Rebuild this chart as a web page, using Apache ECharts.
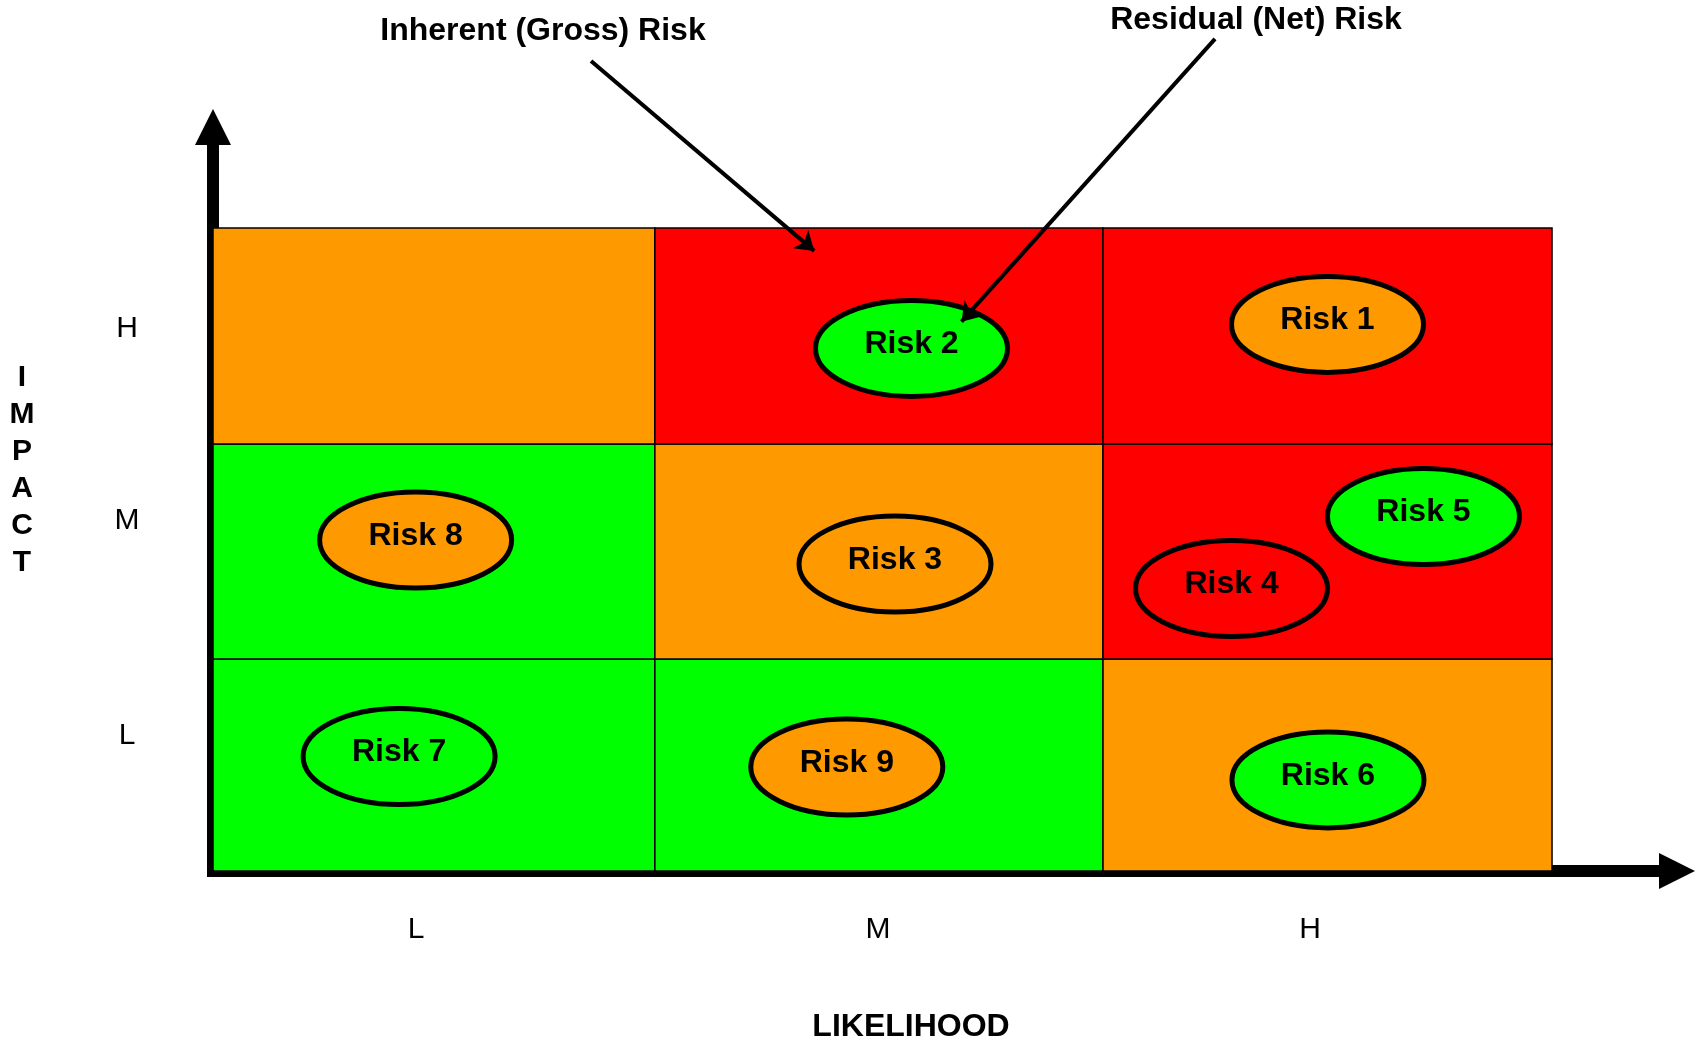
<!DOCTYPE html>
<html>
<head>
<meta charset="utf-8">
<script src="https://cdn.jsdelivr.net/npm/echarts@6/dist/echarts.min.js"></script>
<style>
html,body{margin:0;padding:0;background:#fff;}
#chart{width:1698px;height:1042px;}
</style>
</head>
<body>
<div id="chart"></div>
<script>
// ---- data ----
const xTickLabels = ['L', 'M', 'H'];          // likelihood
const yTickLabels = ['L', 'M', 'H'];          // impact
const xTickAt = [0.455, 1.490, 2.458];
const yTickAt = [0.630, 1.633, 2.529];

// band edges of the L / M / H bands as drawn
const likelihoodEdges = [0, 0.990, 1.994, 3];
const impactEdges     = [0, 0.989, 1.992, 3];

// cell ratings by impact row (L, M, H) and likelihood column (L, M, H)
const cellRatingRowL = ['Low', 'Low', 'Medium'];
const cellRatingRowM = ['Low', 'Medium', 'High'];
const cellRatingRowH = ['Medium', 'High', 'High'];

const riskNames      = ['Risk 1', 'Risk 2', 'Risk 3', 'Risk 4', 'Risk 5', 'Risk 6', 'Risk 7', 'Risk 8', 'Risk 9'];
const riskLikelihood = [2.497, 1.565, 1.528, 2.282, 2.712, 2.498, 0.417, 0.454, 1.420];
const riskImpact     = [2.550, 2.438, 1.432, 1.318, 1.654, 0.425, 0.534, 1.544, 0.485];
const riskRating     = ['Medium', 'Low', 'Medium', 'High', 'Low', 'Low', 'Low', 'Medium', 'Medium'];

const annotationNames = ['Inherent (Gross) Risk', 'Residual (Net) Risk'];
const annotationFrom  = [[0.847, 3.779], [2.245, 3.882]];
const annotationTo    = [[1.347, 2.893], [1.677, 2.563]];

// ---- styles ----
const ratingColor = { Low: '#00FF00', Medium: '#FF9900', High: '#FF0000' };
const FONT = '"Liberation Sans", Arial, Helvetica, sans-serif';

const cellRows = [cellRatingRowL, cellRatingRowM, cellRatingRowH];
const cellData = [];
cellRows.forEach((row, r) => row.forEach((rating, c) =>
  cellData.push([likelihoodEdges[c], impactEdges[r], likelihoodEdges[c + 1], impactEdges[r + 1], rating])));

const riskData = riskNames.map((n, i) => [riskLikelihood[i], riskImpact[i], riskRating[i], n]);

const chart = echarts.init(document.getElementById('chart'));

function nearestIndex(arr, v) {
  let best = 0;
  arr.forEach((a, i) => { if (Math.abs(a - v) < Math.abs(arr[best] - v)) best = i; });
  return best;
}

const axisLineStyle = {
  show: true,
  symbol: ['none', 'triangle'],
  symbolSize: [36, 36],
  lineStyle: { color: '#000', width: 12, cap: 'square' }
};

chart.setOption({
  animation: false,
  backgroundColor: '#fff',
  grid: { left: 213, right: 21, top: 127, bottom: 171, containLabel: false, outerBoundsMode: 'none' },
  xAxis: {
    type: 'value', min: 0, max: 3.28, offset: 6,
    axisLine: axisLineStyle,
    axisTick: { show: false },
    splitLine: { show: false },
    axisLabel: {
      customValues: xTickAt,
      margin: 38,
      color: '#000', fontSize: 30, fontFamily: FONT,
      formatter: v => xTickLabels[nearestIndex(xTickAt, v)]
    }
  },
  yAxis: {
    type: 'value', min: 0, max: 3.471, offset: 6,
    axisLine: axisLineStyle,
    axisTick: { show: false },
    splitLine: { show: false },
    axisLabel: {
      customValues: yTickAt,
      margin: 80,
      align: 'center',
      color: '#000', fontSize: 30, fontFamily: FONT,
      formatter: v => yTickLabels[nearestIndex(yTickAt, v)]
    }
  },
  graphic: [
    { type: 'text', x: 22, y: 359, style: { text: 'I\nM\nP\nA\nC\nT', fontSize: 30, fontWeight: 'bold', fontFamily: FONT, fill: '#000', align: 'center', lineHeight: 37 } },
    { type: 'text', x: 911, y: 1027, style: { text: 'LIKELIHOOD', fontSize: 32, fontWeight: 'bold', fontFamily: FONT, fill: '#000', align: 'center', verticalAlign: 'middle' } },
    { type: 'text', x: 543, y: 31, style: { text: annotationNames[0], fontSize: 32, fontWeight: 'bold', fontFamily: FONT, fill: '#000', align: 'center', verticalAlign: 'middle' } },
    { type: 'text', x: 1256, y: 20, style: { text: annotationNames[1], fontSize: 32, fontWeight: 'bold', fontFamily: FONT, fill: '#000', align: 'center', verticalAlign: 'middle' } }
  ],
  series: [
    {
      type: 'custom',
      name: 'cells',
      z: 1,
      silent: true,
      data: cellData,
      renderItem: function (params, api) {
        const p0 = api.coord([api.value(0), api.value(3)]);
        const p1 = api.coord([api.value(2), api.value(1)]);
        const rating = cellData[params.dataIndex][4];
        return {
          type: 'rect',
          shape: { x: p0[0], y: p0[1], width: p1[0] - p0[0], height: p1[1] - p0[1] },
          style: { fill: ratingColor[rating], stroke: '#000', lineWidth: 1.5 }
        };
      }
    },
    {
      type: 'custom',
      name: 'risks',
      z: 3,
      silent: true,
      data: riskData,
      renderItem: function (params, api) {
        const p = api.coord([api.value(0), api.value(1)]);
        const d = riskData[params.dataIndex];
        return {
          type: 'group',
          children: [
            { type: 'ellipse', shape: { cx: p[0], cy: p[1], rx: 96, ry: 48 },
              style: { fill: ratingColor[d[2]], stroke: '#000', lineWidth: 5 } },
            { type: 'text', x: p[0], y: p[1] - 4,
              style: { text: d[3], fontSize: 32, fontWeight: 'bold', fontFamily: FONT, fill: '#000', align: 'center', verticalAlign: 'middle' } }
          ]
        };
      }
    },
    {
      type: 'lines',
      name: 'annotations',
      coordinateSystem: 'cartesian2d',
      clip: false,
      z: 5,
      silent: true,
      symbol: ['none', 'arrow'],
      symbolSize: 18,
      lineStyle: { color: '#000', width: 4, opacity: 1, curveness: 0 },
      data: annotationNames.map((n, i) => ({ name: n, coords: [annotationFrom[i], annotationTo[i]] }))
    }
  ]
});
</script>
</body>
</html>
